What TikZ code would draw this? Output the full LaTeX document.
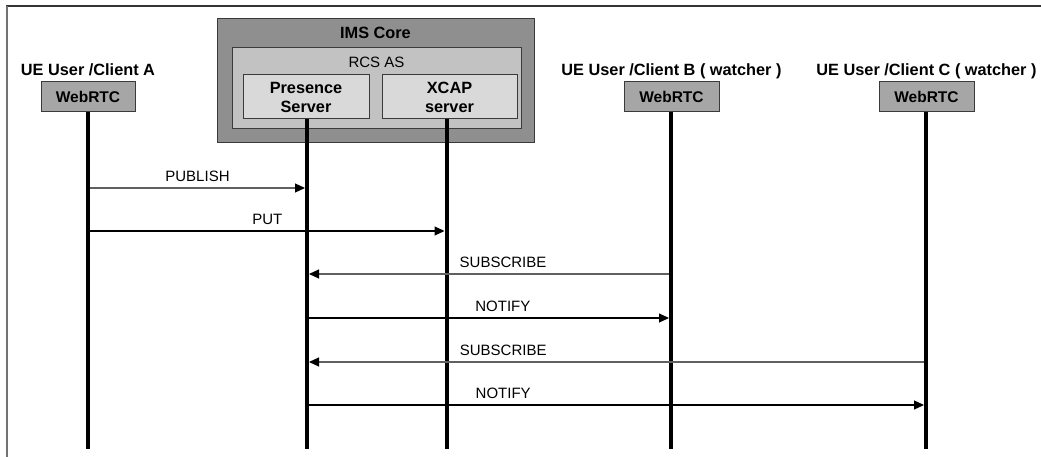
\documentclass[tikz,border=0pt]{standalone}
\usepackage{fontspec}
\setmainfont{Liberation Sans}
\usetikzlibrary{arrows.meta}
\definecolor{imsfill}{HTML}{8F8F8F}
\definecolor{rcsfill}{HTML}{C2C2C2}
\definecolor{srvfill}{HTML}{D9D9D9}
\definecolor{webfill}{HTML}{A6A6A6}
\definecolor{edge}{HTML}{3A3A3A}
\definecolor{msggray}{HTML}{606060}
\begin{document}
\begin{tikzpicture}[x=1pt,y=-1pt,
  boxfr/.style={draw=edge, line width=1pt, inner sep=0pt, outer sep=0pt},
  boldtxt/.style={font=\fontsize{16.3}{19}\selectfont\bfseries, align=center},
  regtxt/.style={font=\fontsize{15}{18}\selectfont},
  webbox/.style={boxfr, fill=webfill, minimum width=95pt, minimum height=30pt, font=\fontsize{15.5}{18}\selectfont\bfseries},
  srvbox/.style={boxfr, fill=srvfill, minimum height=44pt, boldtxt},
  lifeline/.style={line width=4pt, black},
  msg/.style={line width=1.1pt, -{Triangle[length=10pt,width=9pt,color=black,fill=black]}, shorten >=2pt, shorten <=2pt},
  lbl/.style={regtxt, anchor=base, yshift=6.5pt, inner sep=0pt}
]
\useasboundingbox (0,0) rectangle (1041,457);
% frame
\draw[line width=1.4pt, black!80] (6,6) -- (1041,6);
\draw[line width=2pt, black!55] (7,6) -- (7,457);

% IMS core
\node[boxfr, fill=imsfill, minimum width=317pt, minimum height=124pt] (ims) at (375.5,81) {};
\node[boldtxt, inner sep=0pt] (imst) at (375.5,33) {IMS Core};
\node[boxfr, fill=rcsfill, minimum width=289pt, minimum height=81pt] (rcs) at (376.5,88.5) {};
\node[regtxt, inner sep=0pt] (rcst) at (376.5,62) {RCS AS};
\node[srvbox, minimum width=126pt] (pres) at (306,97) {Presence\\Server};
\node[srvbox, minimum width=135pt] (xcap) at (449.5,97) {XCAP\\server};

% clients
\node[webbox, minimum width=94pt] (ua) at (88,97) {WebRTC};
\node[webbox] (ub) at (671.5,97) {WebRTC};
\node[webbox] (uc) at (926.5,97) {WebRTC};
\node[boldtxt, anchor=base, inner sep=0pt] (la) at ([yshift=6pt]ua.north) {UE User /Client A};
\node[boldtxt, anchor=base, inner sep=0pt] (lb) at ([yshift=6pt]ub.north) {UE User /Client B ( watcher )};
\node[boldtxt, anchor=base, inner sep=0pt] (lc) at ([yshift=6pt]uc.north) {UE User /Client C ( watcher )};

% lifelines
\coordinate (bot) at (0,449);
\coordinate (ptop) at ([xshift=1pt]pres.south);
\coordinate (xtop) at ([xshift=-3pt]xcap.south);
\coordinate (btop) at ([xshift=-0.5pt]ub.south);
\coordinate (ctop) at ([xshift=-0.5pt]uc.south);
\draw[lifeline] (ua.south) -- (ua.south |- bot);
\draw[lifeline] (ptop) -- (ptop |- bot);
\draw[lifeline] (xtop) -- (xtop |- bot);
\draw[lifeline] (btop) -- (btop |- bot);
\draw[lifeline] (ctop) -- (ctop |- bot);

% message rows
\coordinate (m1) at (0,188);
\coordinate (m2) at (0,231);
\coordinate (m3) at (0,274);
\coordinate (m4) at (0,318);
\coordinate (m5) at (0,362);
\coordinate (m6) at (0,405);

\draw[msg, msggray] (ua.south |- m1) -- node[lbl, black, pos=0.5] {PUBLISH} (ptop |- m1);
\draw[msg, black] (ua.south |- m2) -- node[lbl, pos=0.5] {PUT} (xtop |- m2);
\draw[msg, msggray] (btop |- m3) -- node[lbl, black, pos=0.4615] {SUBSCRIBE} (ptop |- m3);
\draw[msg, black] (ptop |- m4) -- node[lbl, pos=0.538] {NOTIFY} (btop |- m4);
\draw[msg, msggray] (ctop |- m5) -- node[lbl, black, pos=0.683] {SUBSCRIBE} (ptop |- m5);
\draw[msg, black] (ptop |- m6) -- node[lbl, pos=0.317] {NOTIFY} (ctop |- m6);
\end{tikzpicture}
\end{document}
